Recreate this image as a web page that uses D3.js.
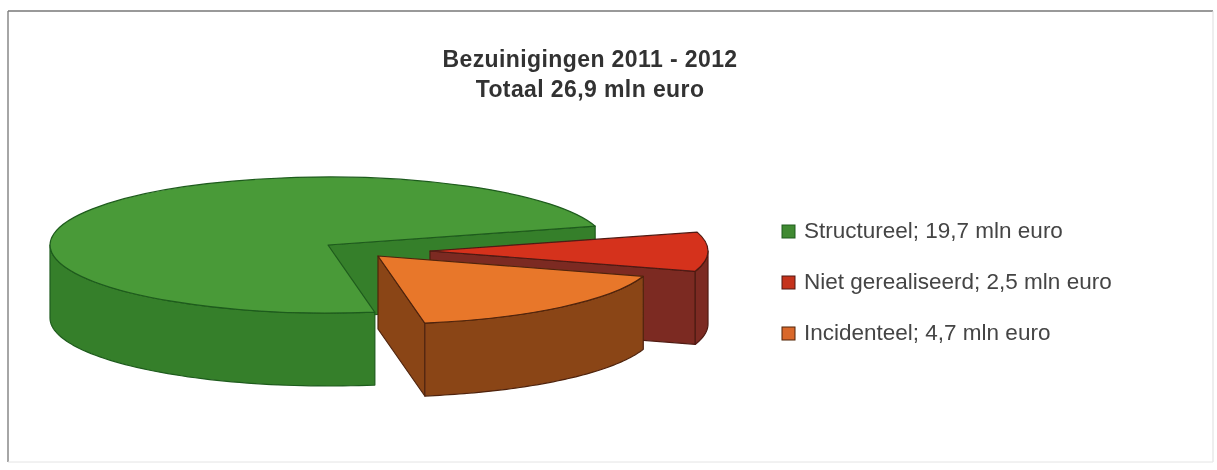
<!DOCTYPE html>
<html>
<head>
<meta charset="utf-8">
<script src="https://cdn.jsdelivr.net/npm/d3@7"></script>
<style>
    html, body { margin: 0; padding: 0; background: #fff; }
    svg { display: block; }
    text { font-family: "Liberation Sans", Arial, sans-serif; }
</style>
</head>
<body>
<svg id="drawing_region"></svg>
<script>
const title_lines = ['Bezuinigingen 2011 - 2012', 'Totaal 26,9 mln euro'];
const categories = ['Structureel', 'Niet gerealiseerd', 'Incidenteel'];
const values = [19.7, 2.5, 4.7];
const unit = 'mln euro';

const top_colors  = ['#4a9a38', '#d5301f', '#e8772c'];
const side_colors = ['#367f2a', '#7c2c20', '#8a4518'];
const edge_colors = ['#1f5c1e', '#4f1a12', '#4f240c'];
const swatch_colors = ['#3f8a33', '#c5301f', '#d9672a'];

// how far each slice is pulled out of the pie, in pixels
const explode_x = [0, 102, 50];
const explode_y = [0, 6, 11];

draw();

function draw() {

    const width  = 1217;
    const height = 470;

    const cx = 328, cy = 245;
    const rx = 278, ry = 68;
    const depth = 73;

    const svg = d3.select('#drawing_region')
        .attr('width', width)
        .attr('height', height);

    // the reference is a soft scan
    svg.append('filter')
        .attr('id', 'soft')
        .append('feGaussianBlur')
        .attr('stdDeviation', 0.7);

    const frame = svg.append('g').attr('filter', 'url(#soft)');
    frame.append('line').attr('x1', 8).attr('y1', 11).attr('x2', 1213).attr('y2', 11)
        .attr('stroke', '#777').attr('stroke-width', 1.3);
    frame.append('line').attr('x1', 8).attr('y1', 11).attr('x2', 8).attr('y2', 462)
        .attr('stroke', '#777').attr('stroke-width', 1.3);
    frame.append('line').attr('x1', 1213).attr('y1', 11).attr('x2', 1213).attr('y2', 462)
        .attr('stroke', '#ddd');
    frame.append('line').attr('x1', 8).attr('y1', 462).attr('x2', 1213).attr('y2', 462)
        .attr('stroke', '#e4e4e4');

    const tau = Math.PI * 2;
    const start_deg = 170.3;

    const pie = d3.pie()
        .sort(null)
        .startAngle(start_deg * Math.PI / 180)
        .endAngle((start_deg + 360) * Math.PI / 180);

    // red and orange come out past a full turn, bring them back
    const arcs = pie(values).map(d => {
        const turn = d.startAngle >= tau ? tau : 0;
        return { ...d, startAngle: d.startAngle - turn, endAngle: d.endAngle - turn };
    });

    const arc = d3.arc().innerRadius(0).outerRadius(1);

    const xscale = d3.scaleLinear().domain([-1, 1]).range([cx - rx, cx + rx]);
    const yscale = d3.scaleLinear().domain([-1, 1]).range([cy - ry, cy + ry]);

    const rim = (a, i, drop) => [
        xscale(Math.sin(a)) + explode_x[i],
        yscale(-Math.cos(a)) + explode_y[i] + drop
    ];

    const line = d3.line();

    const chart = svg.append('g').attr('filter', 'url(#soft)');

    arcs.forEach((d, i) => {

        const g = chart.append('g')
            .attr('stroke', edge_colors[i])
            .attr('stroke-width', 1.2)
            .attr('stroke-linejoin', 'round');

        const apex = [cx + explode_x[i], cy + explode_y[i]];
        const apex_low = [apex[0], apex[1] + depth];

        // straight cut faces, only the ones turned towards the viewer
        const wall = a => {
            const p = rim(a, i, 0);
            g.append('path')
                .attr('d', line([apex, p, [p[0], p[1] + depth], apex_low]) + 'Z')
                .attr('fill', side_colors[i]);
        };
        if (Math.sin(d.startAngle) < 0) wall(d.startAngle);
        if (Math.sin(d.endAngle) > 0) wall(d.endAngle);

        // outer rim, front half of the ellipse only
        const a0 = Math.max(d.startAngle, Math.PI / 2);
        const a1 = Math.min(d.endAngle, Math.PI * 3 / 2);
        if (a1 > a0) {
            const steps = d3.range(0, 61).map(k => a0 + (a1 - a0) * k / 60);
            const upper = steps.map(a => rim(a, i, 0));
            const lower = steps.map(a => rim(a, i, depth)).reverse();
            g.append('path')
                .attr('d', line(upper.concat(lower)) + 'Z')
                .attr('fill', side_colors[i]);
        }

        // top surface
        g.append('path')
            .attr('d', arc(d))
            .attr('transform', `translate(${apex[0]}, ${apex[1]}) scale(${rx}, ${ry})`)
            .attr('fill', top_colors[i])
            .attr('vector-effect', 'non-scaling-stroke');
    });

    svg.append('g')
        .attr('filter', 'url(#soft)')
        .selectAll('text')
        .data(title_lines)
        .enter()
        .append('text')
        .attr('x', 590)
        .attr('y', (d, i) => 67 + i * 30)
        .attr('text-anchor', 'middle')
        .attr('font-size', '23px')
        .attr('letter-spacing', '0.4px')
        .attr('font-weight', 'bold')
        .attr('fill', '#333')
        .text(d => d);

    const legend_y = d3.scalePoint()
        .domain(categories)
        .range([231, 333]);

    const legend = svg.append('g')
        .attr('filter', 'url(#soft)')
        .selectAll('g')
        .data(categories)
        .enter()
        .append('g')
        .attr('transform', d => `translate(782, ${legend_y(d)})`);

    legend.append('rect')
        .attr('x', 0)
        .attr('y', -6)
        .attr('width', 13)
        .attr('height', 13)
        .attr('fill', (d, i) => swatch_colors[i])
        .attr('stroke', (d, i) => edge_colors[i]);

    legend.append('text')
        .attr('x', 22)
        .attr('y', 7)
        .attr('font-size', '22.5px')
        .attr('fill', '#444')
        .text((d, i) => `${d}; ${String(values[i]).replace('.', ',')} ${unit}`);
}
</script>
</body>
</html>
